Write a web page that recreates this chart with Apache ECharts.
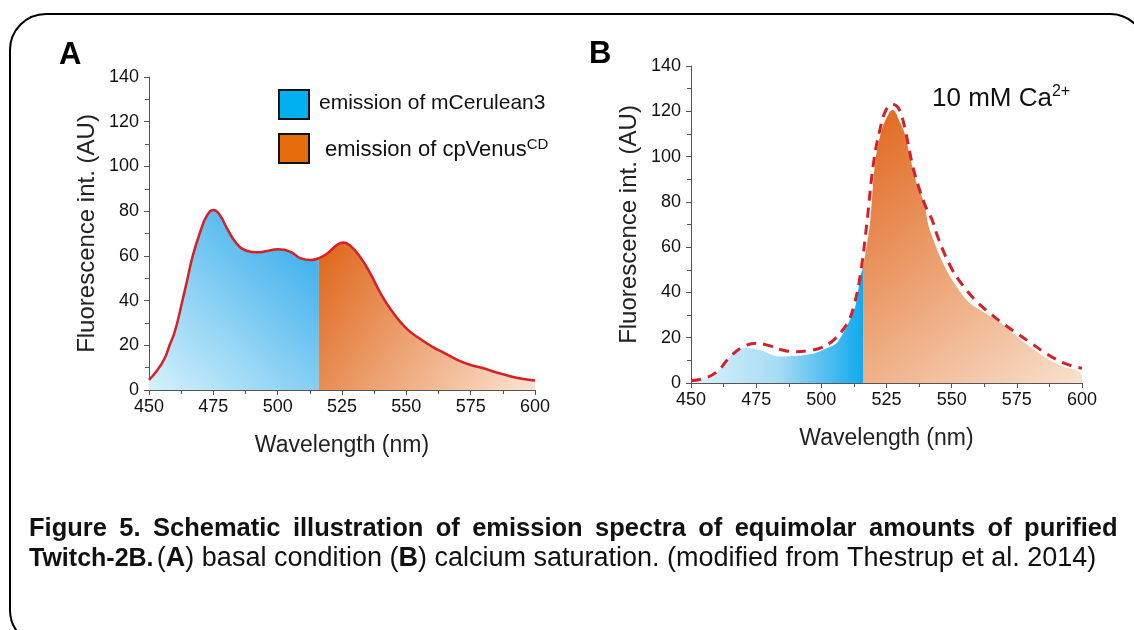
<!DOCTYPE html>
<html>
<head>
<meta charset="utf-8">
<script src="https://cdn.jsdelivr.net/npm/echarts@6/dist/echarts.min.js"></script>
<style>
html,body{margin:0;padding:0;background:#fff;}
#chart{width:1134px;height:630px;}
</style>
</head>
<body>
<div id="chart"></div>
<script>
// ---------- data ----------
// Panel A: total emission spectrum (basal condition)
const waveA = [450,453,456,458,460,463,465,467,470,472.5,475,477.5,480,484,488,492,496,500,505,509,513,516,519,523,525.5,528,532,536,540,545,550,555,560,565,570,575,580,585,590,595,600];
const fluoA = [4.5,8.5,14,20,26,40,50,60,71,78,80.5,78.3,73,65.6,62.3,61.6,62.2,62.9,61.8,58.9,58.2,59,60.8,64.8,66,64.8,59.6,52.2,43.2,34.3,27.6,23.1,19.4,16.4,13.4,11.2,9.7,7.8,6.3,5.0,4.2];
const splitNm = 516;

// Panel B: dashed total spectrum (10 mM Ca2+)
const waveBLine = [450,455,460,465,470,475,480,485,490,495,500,505,510,512.5,515,517.5,520,522.5,525,527.5,530,532.5,535,537.5,540,542.5,545,550,555,560,565,570,575,580,585,590,595,600];
const fluoBLine = [1,2,5,11.6,16,17.6,16.5,14.6,13.8,14.3,15.6,19.3,26.5,34,48,71,97,112,121,123,120.5,110,96,86,78,72,63.5,50.5,42,35.5,30.5,26,22,18,14,10.5,8,6.5];

// Panel B: filled mCerulean3 part
const waveBBlue = [451,455,458.6,461,463.7,467.5,471.3,476.5,481,484,490.5,497,502,506,509.7,513,515,516];
const fluoBBlue = [0.5,1.8,3,6,10,14.6,15.6,14.6,12.4,11.7,12,13,15.3,17.8,24.9,33.7,47,51];

// Panel B: filled cpVenusCD part
const waveBOrange = [516,517,518.7,520.6,523.2,526.4,527.6,530.2,532,534,536.6,539.3,541.2,543,545.5,549.4,553.2,557,560.9,567.3,573.7,580,586.4,592.8,598,600];
const fluoBOrange = [51,58,70.6,97,112,120,120.6,115,110,100,88,80,69,63.2,55.8,47,40.3,35.2,32.2,27.8,21.9,16,10.9,7.2,5.7,3.5];

const legendLabels = ['emission of mCerulean3', 'emission of cpVenus', 'CD'];
const xRange = [450, 600, 25];
const yRange = [0, 140, 20];
const captionLine1 = 'Figure 5. Schematic illustration of emission spectra of equimolar amounts of purified';

// ---------- helpers ----------
const FONT = '"Liberation Sans", Arial, Helvetica, sans-serif';
const pairs = (xs, ys) => xs.map((x, i) => [x, ys[i]]);
const allA = pairs(waveA, fluoA);
const blueA = allA.filter(p => p[0] <= splitNm);
const orangeA = allA.filter(p => p[0] >= splitNm);

function lin(x, y, x2, y2, stops) {
  return {type: 'linear', x, y, x2, y2, colorStops: stops.map(s => ({offset: s[0], color: s[1]}))};
}

function xAxisDef(gridIndex) {
  return {
    type: 'value', gridIndex, min: xRange[0], max: xRange[1], interval: xRange[2],
    name: 'Wavelength (nm)', nameLocation: 'middle', nameGap: 44,
    nameTextStyle: {fontFamily: FONT, fontSize: 23, color: '#222'},
    axisLine: {show: true, onZero: false, lineStyle: {color: '#555', width: 1}},
    axisTick: {show: true, length: 5, lineStyle: {color: '#555'}},
    minorTick: {show: true, splitNumber: 2, length: 4, lineStyle: {color: '#555'}},
    axisLabel: {fontFamily: FONT, fontSize: 18, color: '#111', margin: 8, showMinLabel: true, showMaxLabel: true},
    splitLine: {show: false}, minorSplitLine: {show: false}
  };
}
function yAxisDef(gridIndex) {
  return {
    type: 'value', gridIndex, min: yRange[0], max: yRange[1], interval: yRange[2],
    name: 'Fluorescence int. (AU)', nameLocation: 'middle', nameGap: 50, nameRotate: 90,
    nameTextStyle: {fontFamily: FONT, fontSize: 24, color: '#222'},
    axisLine: {show: true, lineStyle: {color: '#555', width: 1}},
    axisTick: {show: true, length: 5, lineStyle: {color: '#555'}},
    minorTick: {show: true, splitNumber: 2, length: 4, lineStyle: {color: '#555'}},
    axisLabel: {fontFamily: FONT, fontSize: 18, color: '#111', margin: 10},
    splitLine: {show: false}, minorSplitLine: {show: false}
  };
}
function areaSeries(idx, data, color, smooth) {
  return {
    type: 'line', xAxisIndex: idx, yAxisIndex: idx, data, smooth,
    symbol: 'none', lineStyle: {width: 0}, areaStyle: {color, opacity: 1}, z: 2, silent: true
  };
}

const chart = echarts.init(document.getElementById('chart'), null, {renderer: 'canvas'});
chart.setOption({
  animation: false,
  backgroundColor: '#fff',
  grid: [
    {left: 149, top: 77, width: 386, height: 313},
    {left: 691, top: 66, width: 391, height: 317}
  ],
  xAxis: [xAxisDef(0), xAxisDef(1)],
  yAxis: [yAxisDef(0), yAxisDef(1)],
  series: [
    areaSeries(0, blueA, lin(0, 1, 1, 0, [[0, '#d6f1fc'], [1, '#27a6ea']]), 0.5),
    areaSeries(0, orangeA, lin(0, 0, 1, 1, [[0, '#df6418'], [1, '#fbe4d2']]), 0.5),
    {
      type: 'line', xAxisIndex: 0, yAxisIndex: 0, data: allA, smooth: 0.5,
      symbol: 'none', lineStyle: {color: '#d81f26', width: 2.5}, z: 3, silent: true
    },
    areaSeries(1, pairs(waveBBlue, fluoBBlue), lin(0, 0, 1, 0, [[0, '#d9f2fc'], [0.5, '#a6dbf5'], [1, '#10a9ee']]), 0.3),
    areaSeries(1, pairs(waveBOrange, fluoBOrange), lin(0, 0, 1, 1, [[0, '#e0661c'], [1, '#f9e1ce']]), 0.3),
    {
      type: 'line', xAxisIndex: 1, yAxisIndex: 1, data: pairs(waveBLine, fluoBLine), smooth: 0.4,
      symbol: 'none', lineStyle: {color: '#d3202a', width: 3, type: [10, 7]}, z: 3, silent: true
    }
  ],
  graphic: [
    {type: 'rect', shape: {x: 10, y: 14, width: 1136, height: 632, r: 36}, style: {fill: 'none', stroke: '#000', lineWidth: 2}, z: 10, silent: true},
    {type: 'text', style: {x: 59, y: 55, text: 'A', font: 'bold 31px ' + FONT, fill: '#000', textVerticalAlign: 'middle'}, z: 10},
    {type: 'text', style: {x: 589, y: 54, text: 'B', font: 'bold 31px ' + FONT, fill: '#000', textVerticalAlign: 'middle'}, z: 10},
    {type: 'rect', shape: {x: 279, y: 90, width: 30, height: 29}, style: {fill: '#00b0f0', stroke: '#111', lineWidth: 2}, z: 10},
    {type: 'rect', shape: {x: 279, y: 134, width: 30, height: 29}, style: {fill: '#e46c0a', stroke: '#111', lineWidth: 2}, z: 10},
    {type: 'text', style: {x: 319, y: 103, text: legendLabels[0], font: '21px ' + FONT, fill: '#111', textVerticalAlign: 'middle'}, z: 10},
    {type: 'text', style: {
      x: 325, y: 150, text: '{m|' + legendLabels[1] + '}{s|' + legendLabels[2] + '}',
      textVerticalAlign: 'middle', fill: '#111',
      rich: {
        m: {fontFamily: FONT, fontSize: 22, lineHeight: 26, fill: '#111'},
        s: {fontFamily: FONT, fontSize: 15, lineHeight: 15, verticalAlign: 'top', fill: '#111'}
      }
    }, z: 10},
    {type: 'text', style: {
      x: 932, y: 99, text: '{m|10 mM Ca}{s|2+}',
      textVerticalAlign: 'middle', fill: '#111',
      rich: {
        m: {fontFamily: FONT, fontSize: 26, lineHeight: 30, fill: '#111'},
        s: {fontFamily: FONT, fontSize: 16, lineHeight: 16, verticalAlign: 'top', fill: '#111'}
      }
    }, z: 10},
    {type: 'text', style: {
      x: 29, y: 529, text: captionLine1.split(' ').map(w => '{b|' + w + '}').join('{sp| }'),
      textVerticalAlign: 'middle', fill: '#111',
      rich: {
        b: {fontFamily: FONT, fontSize: 25.5, fontWeight: 'bold', fill: '#111'},
        sp: {fontFamily: FONT, fontSize: 25.5, fontWeight: 'bold', width: 12.4, fill: '#111'}
      }
    }, z: 10},
    {type: 'text', style: {
      x: 29, y: 559, text: '{t|Twitch-2B.} {n|(}{b|A}{n|) basal condition (}{b|B}{n|) calcium saturation. (modified from Thestrup et al. 2014)}',
      textVerticalAlign: 'middle', fill: '#111',
      rich: {
        t: {fontFamily: FONT, fontSize: 25, fontWeight: 'bold', fill: '#111'},
        b: {fontFamily: FONT, fontSize: 27, fontWeight: 'bold', fill: '#111'},
        n: {fontFamily: FONT, fontSize: 27, fill: '#111'}
      }
    }, z: 10}
  ]
});
</script>
</body>
</html>
